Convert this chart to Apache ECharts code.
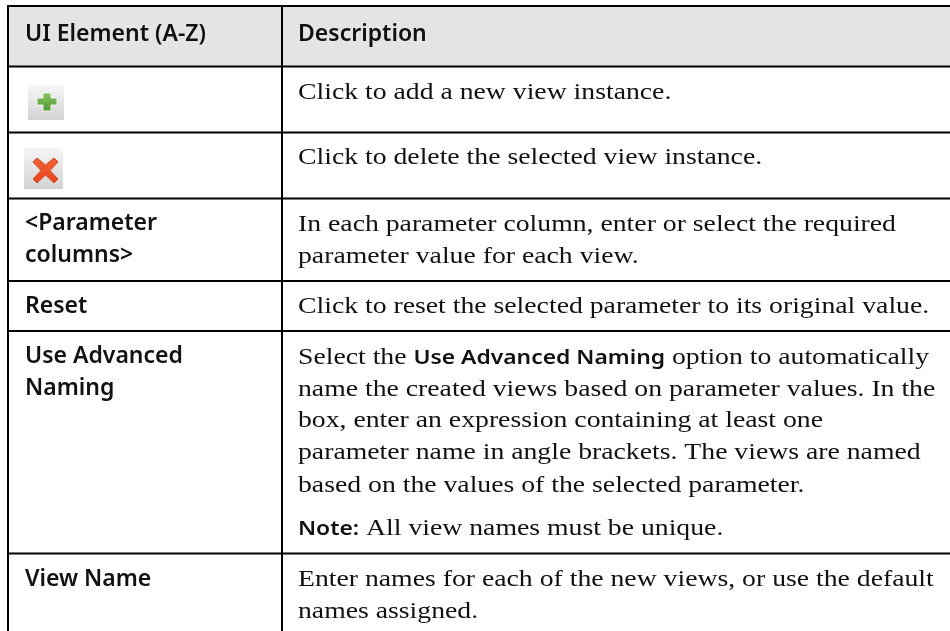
<!DOCTYPE html>
<html><head><meta charset="utf-8">
<style>html,body{margin:0;padding:0;background:#fff}#c{width:950px;height:631px}</style>
<script src="https://cdn.jsdelivr.net/npm/echarts@6/dist/echarts.min.js"></script>
</head><body><div id="c"></div>
<script>
const headers = ["UI Element (A-Z)", "Description"];
const uiElements = [["<Parameter","columns>"],["Reset"],["Use Advanced","Naming"],["View Name"]];
const uiBaselines = [[231,263],[314.5],[364,396],[587]];
const descriptions = [
  "Click to add a new view instance.",
  "Click to delete the selected view instance.",
  "In each parameter column, enter or select the required",
  "parameter value for each view.",
  "Click to reset the selected parameter to its original value.",
  "Select the {b|Use Advanced Naming} option to automatically",
  "name the created views based on parameter values. In the",
  "box, enter an expression containing at least one",
  "parameter name in angle brackets. The views are named",
  "based on the values of the selected parameter.",
  "{b|Note:} All view names must be unique.",
  "Enter names for each of the new views, or use the default",
  "names assigned."
];
const descBaselines = [100,165,232,264,314,365,397,428,460,493,536,587,619];
const hLines = [6,66.5,132.5,198.5,281,331,553.5];
const vLines = [8,282];

const BODY_SIZE = 24, BODY_SCALE = 1.155, BOLD_SIZE = 23;
const g = [];
g.push({type:'rect',shape:{x:8,y:6,width:942,height:60},style:{fill:'#e4e4e4'},silent:true});
hLines.forEach(y=>g.push({type:'rect',shape:{x:7,y:y-1,width:943,height:2},style:{fill:'#000'}}));
vLines.forEach(x=>g.push({type:'rect',shape:{x:x-1,y:5,width:2,height:626},style:{fill:'#000'}}));

function boldText(t,x,y){
  g.push({type:'text',x:x,y:y-8,style:{text:t,font:'600 '+BOLD_SIZE+'px "Noto Sans"',fill:'#111',verticalAlign:'middle',align:'left'}});
}
boldText(headers[0],25,42); boldText(headers[1],298,42);
uiElements.forEach((ls,i)=>ls.forEach((t,j)=>boldText(t,25,uiBaselines[i][j])));
descriptions.forEach((t,i)=>{
  g.push({type:'text',x:298,y:descBaselines[i]-7,scaleX:BODY_SCALE,style:{
    text:t,font:BODY_SIZE+'px "Liberation Serif"',fill:'#111',verticalAlign:'middle',align:'left',
    rich:{b:{fontFamily:'Noto Sans',fontWeight:600,fontSize:19.8,fill:'#111',color:'#111'}}
  }});
});
// toolbar icons
const btn=(x,y,w,h)=>g.push({type:'rect',shape:{x,y,width:w,height:h},style:{fill:new echarts.graphic.LinearGradient(0,0,0,1,[{offset:0,color:'#f6f6f6'},{offset:1,color:'#d2d2d2'}])}});
btn(28,85,36,35); btn(24,148,39,41);
g.push({type:'polygon',shape:{points:[[43,93],[51,93],[51,98],[57,98],[57,105],[51,105],[51,111],[43,111],[43,105],[37,105],[37,98],[43,98]]},
  style:{fill:new echarts.graphic.LinearGradient(0,0,0,1,[{offset:0,color:'#8cc063'},{offset:1,color:'#4f9a35'}]),stroke:'#eef5e8',lineWidth:1}});
g.push({type:'polygon',shape:{points:[[37,158],[45.5,165],[54,158],[58,162],[50,170.5],[58,179],[54,183],[45.5,175],[37,183],[33,179],[41,170.5],[33,162]]},
  style:{fill:new echarts.graphic.LinearGradient(0,0,0,1,[{offset:0,color:'#f2643a'},{offset:1,color:'#e8431a'}]),stroke:'#d94a24',lineWidth:1,lineJoin:'round'}});

const chart = echarts.init(document.getElementById('c'),null,{renderer:'canvas'});
chart.setOption({animation:false,graphic:{elements:g}});
</script></body></html>
